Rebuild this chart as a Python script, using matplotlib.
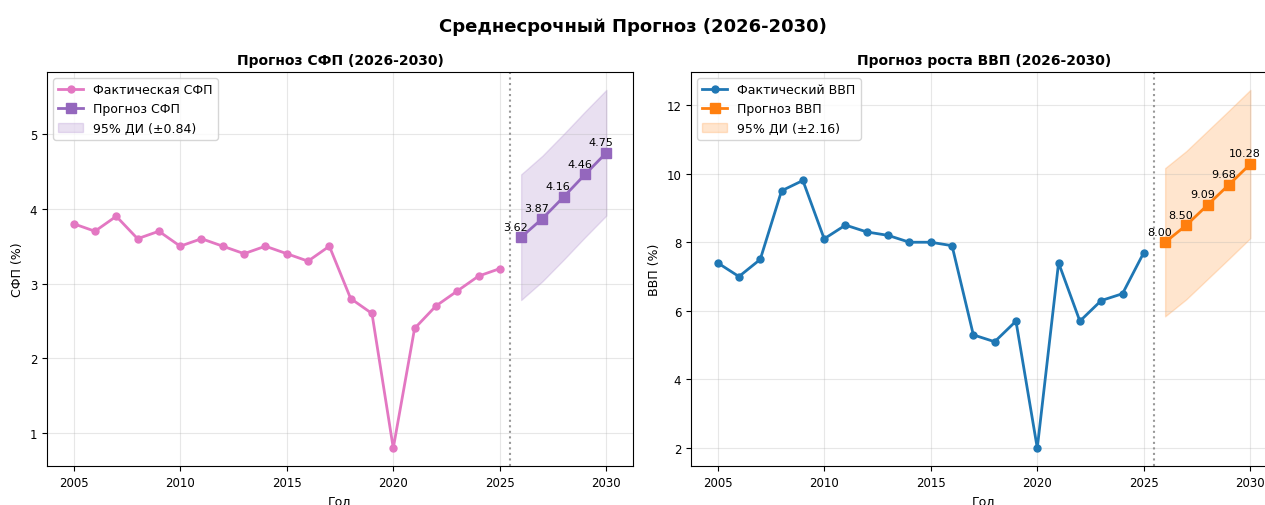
import matplotlib.pyplot as plt

# Historical data
years = list(range(2005, 2026))
tfp = [3.8, 3.7, 3.9, 3.6, 3.7, 3.5, 3.6, 3.5, 3.4, 3.5, 3.4, 3.3, 3.5,
       2.8, 2.6, 0.8, 2.4, 2.7, 2.9, 3.1, 3.2]
gdp = [7.4, 7.0, 7.5, 9.5, 9.8, 8.1, 8.5, 8.3, 8.2, 8.0, 8.0, 7.9, 5.3,
       5.1, 5.7, 2.0, 7.4, 5.7, 6.3, 6.5, 7.7]

# Forecast 2026-2030
f_years = [2026, 2027, 2028, 2029, 2030]
tfp_fc = [3.62, 3.87, 4.16, 4.46, 4.75]
gdp_fc = [8.00, 8.50, 9.09, 9.68, 10.28]
tfp_ci = 0.84
gdp_ci = 2.16

fig = plt.figure(figsize=(12.65, 5.06), dpi=100)
fig.suptitle('Среднесрочный Прогноз (2026-2030)', fontsize=13, fontweight='bold', y=0.965)

ax1 = fig.add_axes([47 / 1265, 1 - 467 / 506, 586 / 1265, 394 / 506])
ax2 = fig.add_axes([691 / 1265, 1 - 467 / 506, 586 / 1265, 394 / 506])


def draw(ax, hist, fc, ci, c_hist, c_fc, lab_hist, lab_fc, title, ylabel):
    ax.plot(years, hist, 'o-', color=c_hist, lw=2, ms=5, label=lab_hist)
    ax.plot(f_years, fc, 's-', color=c_fc, lw=2, ms=7, label=lab_fc)
    lo = [v - ci for v in fc]
    hi = [v + ci for v in fc]
    ax.fill_between(f_years, lo, hi, color=c_fc, alpha=0.2,
                    label=f'95% ДИ (±{ci:.2f})')
    for x, v in zip(f_years, fc):
        ax.annotate(f'{v:.2f}', (x, v), xytext=(-4, 4), textcoords='offset points',
                    ha='center', va='bottom', fontsize=8)
    ax.axvline(2025.5, color='gray', ls=':', lw=1.5, alpha=0.8)
    ax.set_title(title, fontsize=10, fontweight='bold')
    ax.set_xlabel('Год', fontsize=9)
    ax.set_ylabel(ylabel, fontsize=9)
    ax.tick_params(labelsize=8.5)
    ax.set_xticks([2005, 2010, 2015, 2020, 2025, 2030])
    ax.grid(True, alpha=0.3)
    ax.legend(loc='upper left', fontsize=9)


draw(ax1, tfp, tfp_fc, tfp_ci, '#e377c2', '#9467bd',
     'Фактическая СФП', 'Прогноз СФП', 'Прогноз СФП (2026-2030)', 'СФП (%)')
draw(ax2, gdp, gdp_fc, gdp_ci, '#1f77b4', '#ff7f0e',
     'Фактический ВВП', 'Прогноз ВВП', 'Прогноз роста ВВП (2026-2030)', 'ВВП (%)')

fig.savefig('out.png', dpi=100)
